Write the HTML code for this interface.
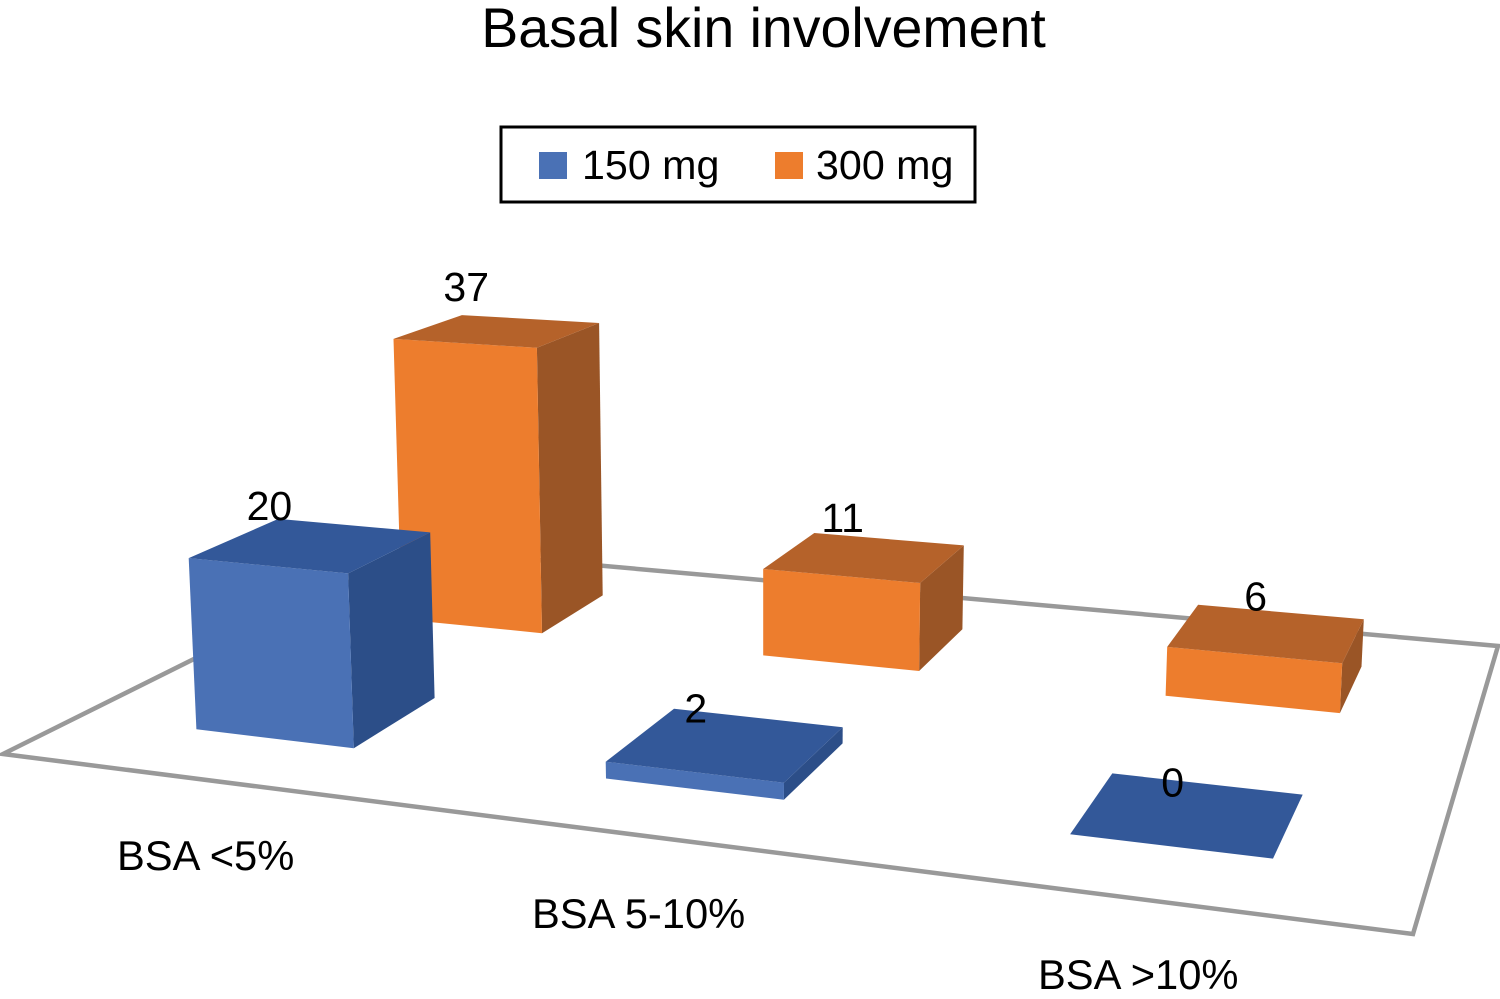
<!DOCTYPE html>
<html lang="en">
<head>
<meta charset="utf-8">
<title>Basal skin involvement</title>
<style>
html,body{margin:0;padding:0;background:#fff;}
svg{display:block;font-family:"Liberation Sans",Arial,sans-serif;fill:#000;}
</style>
</head>
<body>
<svg id="chart" width="1500" height="999" viewBox="0 0 1500 999" xmlns="http://www.w3.org/2000/svg">
  <text x="763.5" y="47" font-size="55.5" text-anchor="middle">Basal skin involvement</text>
  <g>
    <rect x="501" y="127" width="474" height="75" fill="#fff" stroke="#000" stroke-width="3"/>
    <rect x="539" y="152" width="28" height="27" fill="#4A71B5"/>
    <text x="582" y="179" font-size="41.2">150 mg</text>
    <rect x="775" y="152" width="28" height="27" fill="#ED7D2D"/>
    <text x="816" y="179" font-size="41.2">300 mg</text>
  </g>
  <polygon points="3,754 1413,934 1498,646 415,549" fill="#fff" stroke="#999" stroke-width="4.5" stroke-linejoin="miter"/>
  <g id="bars"></g>
  <g id="value-labels"></g>
  <text x="117" y="870" font-size="41.7">BSA &lt;5%</text>
  <text x="532" y="928" font-size="41.7">BSA 5-10%</text>
  <text x="1038" y="989" font-size="41.7">BSA &gt;10%</text>
</svg>
<script>
const categories = ["BSA <5%", "BSA 5-10%", "BSA >10%"];
const series150 = [20, 2, 0];
const series300 = [37, 11, 6];

const NS = "http://www.w3.org/2000/svg";
const G = -0.1817, H = 0.3162;
const A = 1153.3, B = 543.2, C = 3;
const D = 10.3, E = -31.4, F = 754;
const HEIGHT_UNIT = 8.85, HEIGHT_BIAS = 1.46, DEPTH_POWER = 0.883, LEAN = 0.00008, BAR_W = 0.133;

function floorPoint(u, v) {
  const w = G * u + H * v + 1;
  return { x: (A * u + B * v + C) / w, y: (D * u + E * v + F) / w, w: w };
}
function lift(p, value) {
  const h = Math.max(0, value * HEIGHT_UNIT - HEIGHT_BIAS) / Math.pow(p.w, DEPTH_POWER);
  return { x: p.x + (p.x - 764) * LEAN * h, y: p.y - h };
}
function pts(list) {
  return list.map(function (p) { return p.x.toFixed(1) + "," + p.y.toFixed(1); }).join(" ");
}
function face(parent, list, fill, name) {
  const el = document.createElementNS(NS, "polygon");
  el.setAttribute("points", pts(list));
  el.setAttribute("fill", fill);
  
  
  parent.appendChild(el);
}
function drawBar(value, catIndex, row, key) {
  const uc = row.start + row.step * catIndex;
  const u0 = uc - BAR_W / 2, u1 = uc + BAR_W / 2;
  const fl = floorPoint(u0, row.v0), fr = floorPoint(u1, row.v0);
  const bl = floorPoint(u0, row.v1), br = floorPoint(u1, row.v1);
  const tfl = lift(fl, value), tfr = lift(fr, value);
  const tbl = lift(bl, value), tbr = lift(br, value);

  const g = document.createElementNS(NS, "g");
  
  
  document.getElementById("bars").appendChild(g);

  if (value > 0) {
    face(g, [tfr, tbr, br, fr], row.side, "bar-side-face");
    face(g, [tfl, tfr, fr, fl], row.front, "bar-front-face");
  }
  face(g, [tfl, tfr, tbr, tbl], row.top, "bar-top-face");

  const t = document.createElementNS(NS, "text");
  t.setAttribute("x", ((tfl.x + tfr.x) / 2 + 1).toFixed(1));
  t.setAttribute("y", ((tfl.y + tfr.y) / 2 - (row.labelBase - row.labelSlope * value)).toFixed(1));
  t.setAttribute("font-size", "41");
  t.setAttribute("text-anchor", "middle");
  
  
  t.textContent = String(value);
  document.getElementById("value-labels").appendChild(t);
}

const rowBack = { start: 0.171, step: 0.332, v0: 0.65, v1: 0.85, labelBase: 45, labelSlope: 0.07, front: "#ED7D2D", top: "#B5622A", side: "#9A5526" };
const rowFront = { start: 0.1685, step: 0.3335, v0: 0.15, v1: 0.35, labelBase: 50, labelSlope: 0.22, front: "#4A71B5", top: "#335899", side: "#2C4E88" };

series300.forEach(function (val, i) { drawBar(val, i, rowBack, "300-mg"); });
series150.forEach(function (val, i) { drawBar(val, i, rowFront, "150-mg"); });
</script>
</body>
</html>
